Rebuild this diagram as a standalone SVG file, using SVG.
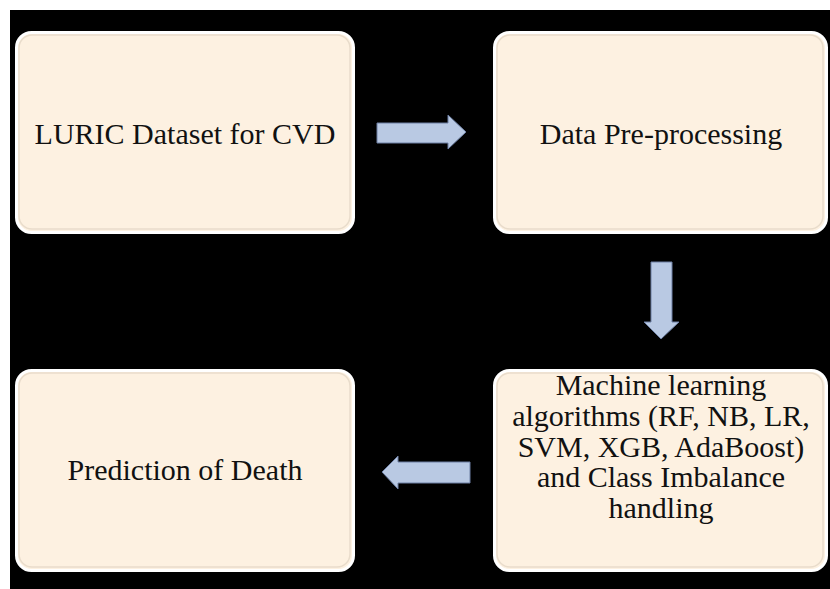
<svg xmlns="http://www.w3.org/2000/svg" width="830" height="589" viewBox="0 0 830 589">
<defs>
<style>
.box{fill:#FDF1E1;stroke:#FFFFFF;stroke-width:3}
.inner{fill:none;stroke:#E9DCCB;stroke-width:1.5}
.t{font-family:"Liberation Serif","Times New Roman",serif;font-size:30px;fill:#111;text-anchor:middle}
.arr{fill:#B9C9E3;stroke:#6D7FA3;stroke-width:1}
</style>
</defs>
<rect x="0" y="0" width="830" height="589" fill="#FFFFFF"/>
<rect x="10" y="10" width="820" height="579" fill="#000000"/>
<g id="n1">
<rect class="box" x="16.5" y="32.5" width="337" height="200" rx="15"/>
<rect class="inner" x="19" y="35" width="331" height="194" rx="13"/>
<text class="t" x="185" y="144">LURIC Dataset for CVD</text>
</g>
<g id="n2">
<rect class="box" x="494.5" y="32.5" width="332" height="200" rx="15"/>
<rect class="inner" x="497" y="35" width="326" height="194" rx="13"/>
<text class="t" x="661" y="144">Data Pre-processing</text>
</g>
<g id="n3">
<rect class="box" x="494.5" y="370.5" width="332" height="200" rx="15"/>
<rect class="inner" x="497" y="373" width="326" height="194" rx="13"/>
<text class="t" x="661" y="395">Machine learning</text>
<text class="t" x="661" y="426">algorithms (RF, NB, LR,</text>
<text class="t" x="661" y="457">SVM, XGB, AdaBoost)</text>
<text class="t" x="661" y="487">and Class Imbalance</text>
<text class="t" x="661" y="518">handling</text>
</g>
<g id="n4">
<rect class="box" x="16.5" y="370.5" width="337" height="200" rx="15"/>
<rect class="inner" x="19" y="373" width="331" height="194" rx="13"/>
<text class="t" x="185" y="480">Prediction of Death</text>
</g>
<g id="connectors">
<polygon class="arr" points="377,123 448,123 448,115 466,132 448,149 448,143 377,143"/>
<polygon class="arr" points="651,262 672,262 672,322 679,322 661,339 644,322 651,322"/>
<polygon class="arr" points="470,462 398,462 398,456 382,472 398,489 398,483 470,483"/>
</g>
</svg>
